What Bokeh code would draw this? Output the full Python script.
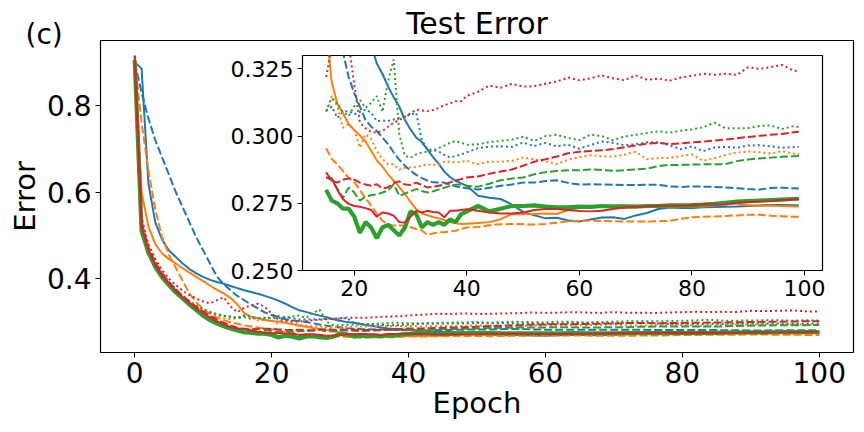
from bokeh.plotting import figure
from bokeh.models import Range1d, FixedTicker, PrintfTickFormatter
from bokeh.embed import file_html
from bokeh.resources import INLINE

# ---------------- data ----------------
EPOCHS = list(range(0, 41)) + list(range(42, 99, 2)) + [99, 100]

BLUE_SOLID = [0.900, 0.885, 0.620, 0.530, 0.490, 0.465, 0.450, 0.435, 0.422, 0.412, 0.404, 0.397, 0.392, 0.388, 0.383,
              0.378, 0.373, 0.369, 0.365, 0.360, 0.355, 0.349, 0.342, 0.334, 0.327,
              0.3232, 0.3185, 0.3145, 0.3110, 0.3060, 0.3025, 0.2995, 0.2978, 0.2950, 0.2922,
              0.2897, 0.2868, 0.2848, 0.2834, 0.2824, 0.2815,
              0.2778, 0.2771, 0.2766, 0.2745, 0.2718, 0.2705, 0.2694, 0.2696, 0.2686, 0.2682, 0.2690, 0.2697, 0.2698,
              0.2692, 0.2705, 0.2714, 0.2729, 0.2734, 0.2733, 0.2733, 0.2735, 0.2736, 0.2737, 0.2738, 0.2740, 0.2742,
              0.2744, 0.2744, 0.2743,
              0.2743, 0.2743]
BLUE_DASHED = [0.900, 0.830, 0.770, 0.720, 0.680, 0.640, 0.600, 0.565, 0.530, 0.495, 0.465, 0.435, 0.405, 0.387, 0.373,
               0.360, 0.350, 0.340, 0.331, 0.322, 0.316, 0.311, 0.306, 0.3035, 0.3019,
               0.2995, 0.2970, 0.2940, 0.2912, 0.2890, 0.2871, 0.2856, 0.2844, 0.2835, 0.2828,
               0.2827, 0.2827, 0.2820, 0.2813, 0.2809, 0.2806,
               0.2801, 0.2808, 0.2815, 0.2820, 0.2827, 0.2827, 0.2833, 0.2836, 0.2826, 0.2820, 0.2821, 0.2820, 0.2819,
               0.2818, 0.2818, 0.2819, 0.2819, 0.2813, 0.2811, 0.2813, 0.2812, 0.2811, 0.2809, 0.2806, 0.2803, 0.2801,
               0.2807, 0.2808, 0.2806,
               0.2805, 0.2805]
BLUE_DOTTED = [0.905, 0.530, 0.472, 0.437, 0.412, 0.392, 0.375, 0.360, 0.348, 0.338, 0.330, 0.323, 0.318, 0.314, 0.311,
               0.3095, 0.3110, 0.3068, 0.3090, 0.3093, 0.3081, 0.3090, 0.3099, 0.3087, 0.3056,
               0.3058, 0.3056, 0.3062, 0.3068, 0.3074, 0.3080, 0.3087, 0.2985, 0.2951, 0.2948,
               0.2943, 0.2930, 0.2920, 0.2926, 0.2932, 0.2940,
               0.2955, 0.2961, 0.2962, 0.2960, 0.2976, 0.2963, 0.2975, 0.2962, 0.2968, 0.2953, 0.2967, 0.2980, 0.2975,
               0.2966, 0.2970, 0.2977, 0.2977, 0.2966, 0.2951, 0.2962, 0.2944, 0.2958, 0.2960, 0.2957, 0.2965, 0.2966,
               0.2962, 0.2957, 0.2959,
               0.2960, 0.2960]
ORANGE_SOLID = [0.905, 0.600, 0.520, 0.480, 0.458, 0.445, 0.435, 0.424, 0.414, 0.404, 0.394, 0.384, 0.374, 0.366, 0.355,
                0.340, 0.320, 0.312, 0.3085, 0.3045, 0.3022, 0.3003, 0.2980, 0.2945, 0.2910,
                0.2887, 0.2858, 0.2834, 0.2810, 0.2785, 0.2755, 0.2728, 0.2713, 0.2705, 0.2699,
                0.2694, 0.2688, 0.2680, 0.2676, 0.2673, 0.2674,
                0.2677, 0.2680, 0.2691, 0.2710, 0.2709, 0.2710, 0.2712, 0.2710, 0.2725, 0.2733, 0.2736, 0.2740, 0.2742,
                0.2743, 0.2741, 0.2740, 0.2738, 0.2738, 0.2738, 0.2738, 0.2738, 0.2742, 0.2747, 0.2749, 0.2743, 0.2741,
                0.2741, 0.2740, 0.2738,
                0.2738, 0.2738]
ORANGE_DASHED = [0.905, 0.760, 0.650, 0.560, 0.495, 0.455, 0.425, 0.395, 0.365, 0.345, 0.330, 0.318, 0.310, 0.304, 0.299,
                 0.2955, 0.2915, 0.2895, 0.2870, 0.2845, 0.2828, 0.2800, 0.2768, 0.2742, 0.2712,
                 0.2685, 0.2672, 0.2667, 0.2667, 0.2667, 0.2662, 0.2654, 0.2650, 0.2632, 0.2638,
                 0.2642, 0.2642, 0.2645, 0.2648, 0.2655, 0.2660,
                 0.2662, 0.2668, 0.2672, 0.2673, 0.2672, 0.2671, 0.2673, 0.2678, 0.2683, 0.2685, 0.2685, 0.2684, 0.2683,
                 0.2682, 0.2682, 0.2682, 0.2683, 0.2685, 0.2692, 0.2698, 0.2700, 0.2701, 0.2703, 0.2705, 0.2707, 0.2707,
                 0.2704, 0.2702, 0.2700,
                 0.2700, 0.2700]
ORANGE_DOTTED = [0.905, 0.530, 0.475, 0.440, 0.413, 0.392, 0.375, 0.360, 0.347, 0.336, 0.327, 0.320, 0.314, 0.309, 0.306,
                 0.3090, 0.3149, 0.3110, 0.3031, 0.3044, 0.3025, 0.2957, 0.3007, 0.2990, 0.2945,
                 0.2915, 0.2895, 0.2895, 0.2875, 0.2882, 0.2884, 0.2885, 0.2890, 0.2895, 0.2892,
                 0.2895, 0.2905, 0.2905, 0.2902, 0.2905, 0.2908,
                 0.2896, 0.2905, 0.2905, 0.2908, 0.2920, 0.2914, 0.2906, 0.2896, 0.2912, 0.2922, 0.2929, 0.2925, 0.2924,
                 0.2931, 0.2942, 0.2914, 0.2918, 0.2919, 0.2926, 0.2932, 0.2908, 0.2918, 0.2930, 0.2939, 0.2943, 0.2940,
                 0.2935, 0.2944, 0.2935,
                 0.2933, 0.2933]
GREEN_SOLID = [0.904, 0.510, 0.460, 0.427, 0.403, 0.385, 0.368, 0.354, 0.340, 0.327, 0.314, 0.304, 0.296, 0.290, 0.285,
               0.2800, 0.2760, 0.2750, 0.2730, 0.2730, 0.2700, 0.2640, 0.2680, 0.2660, 0.2620,
               0.2660, 0.2670, 0.2650, 0.2630, 0.2660, 0.2720, 0.2710, 0.2660, 0.2680, 0.2670,
               0.2680, 0.2670, 0.2690, 0.2680, 0.2710, 0.2720,
               0.2740, 0.2720, 0.2730, 0.2740, 0.2740, 0.2742, 0.2738, 0.2735, 0.2735, 0.2738, 0.2737, 0.2740, 0.2738,
               0.2738, 0.2738, 0.2740, 0.2740, 0.2742, 0.2742, 0.2743, 0.2745, 0.2748, 0.2752, 0.2756, 0.2758, 0.2760,
               0.2762, 0.2764, 0.2766,
               0.2767, 0.2767]
GREEN_DASHED = [0.905, 0.520, 0.465, 0.431, 0.406, 0.387, 0.370, 0.355, 0.342, 0.330, 0.319, 0.309, 0.301, 0.294, 0.289,
                0.2848, 0.2835, 0.2805, 0.2770, 0.2809, 0.2790, 0.2760, 0.2775, 0.2780, 0.2783,
                0.2790, 0.2797, 0.2821, 0.2778, 0.2786, 0.2795, 0.2803, 0.2796, 0.2790, 0.2795,
                0.2801, 0.2808, 0.2815, 0.2819, 0.2820, 0.2815,
                0.2812, 0.2823, 0.2836, 0.2842, 0.2846, 0.2858, 0.2866, 0.2870, 0.2873, 0.2873, 0.2876, 0.2874, 0.2871,
                0.2873, 0.2876, 0.2879, 0.2888, 0.2893, 0.2893, 0.2894, 0.2895, 0.2895, 0.2896, 0.2907, 0.2913, 0.2917,
                0.2920, 0.2923, 0.2925,
                0.2926, 0.2926]
GREEN_DOTTED = [0.905, 0.520, 0.470, 0.437, 0.412, 0.392, 0.374, 0.359, 0.346, 0.336, 0.328, 0.322, 0.318, 0.314, 0.313,
                0.3093, 0.3142, 0.3120, 0.3090, 0.3074, 0.3112, 0.3136, 0.3105, 0.3124, 0.3149,
                0.3090, 0.3204, 0.3285, 0.3007, 0.2926, 0.2920, 0.2932, 0.2939, 0.2942, 0.2947,
                0.2955, 0.2965, 0.2975, 0.2982, 0.2975, 0.2968,
                0.2970, 0.2978, 0.2982, 0.2987, 0.2998, 0.2982, 0.3000, 0.3005, 0.2993, 0.2985, 0.3006, 0.3000, 0.2985,
                0.2999, 0.3005, 0.3012, 0.3018, 0.3013, 0.3020, 0.3025, 0.3033, 0.3050, 0.3029, 0.3029, 0.3030, 0.3038,
                0.3040, 0.3026, 0.3037,
                0.3034, 0.3034]
RED_SOLID = [0.915, 0.520, 0.466, 0.432, 0.407, 0.388, 0.372, 0.357, 0.344, 0.331, 0.320, 0.310, 0.301, 0.294, 0.288,
             0.2846, 0.2843, 0.2800, 0.2765, 0.2748, 0.2740, 0.2737, 0.2732, 0.2725, 0.2700,
             0.2716, 0.2712, 0.2704, 0.2680, 0.2679, 0.2700, 0.2722, 0.2716, 0.2722, 0.2718,
             0.2716, 0.2698, 0.2722, 0.2722, 0.2725, 0.2728,
             0.2722, 0.2716, 0.2712, 0.2712, 0.2716, 0.2725, 0.2729, 0.2729, 0.2725, 0.2721, 0.2720, 0.2722, 0.2729,
             0.2734, 0.2737, 0.2739, 0.2741, 0.2741, 0.2741, 0.2744, 0.2747, 0.2746, 0.2746, 0.2752, 0.2755, 0.2757,
             0.2759, 0.2762, 0.2765,
             0.2766, 0.2766]
RED_DASHED = [0.912, 0.530, 0.472, 0.437, 0.412, 0.392, 0.375, 0.360, 0.347, 0.335, 0.324, 0.314, 0.305, 0.298, 0.292,
              0.2865, 0.2835, 0.2827, 0.2838, 0.2843, 0.2838, 0.2827, 0.2820, 0.2815, 0.2821,
              0.2805, 0.2810, 0.2825, 0.2832, 0.2820, 0.2818, 0.2827, 0.2818, 0.2809, 0.2812,
              0.2815, 0.2820, 0.2828, 0.2835, 0.2840, 0.2846,
              0.2850, 0.2860, 0.2868, 0.2876, 0.2890, 0.2905, 0.2914, 0.2924, 0.2936, 0.2942, 0.2945, 0.2947, 0.2952,
              0.2959, 0.2965, 0.2972, 0.2975, 0.2970, 0.2973, 0.2977, 0.2980, 0.2984, 0.2987, 0.2992, 0.2997, 0.3001,
              0.3005, 0.3008, 0.3014,
              0.3016, 0.3016]
RED_DOTTED = [0.915, 0.540, 0.480, 0.445, 0.420, 0.400, 0.385, 0.372, 0.362, 0.354, 0.347, 0.343, 0.350, 0.357, 0.336,
              0.3220, 0.3330, 0.3380, 0.3420, 0.3350, 0.3190, 0.3050, 0.3030, 0.3015, 0.3013,
              0.3019, 0.3035, 0.3050, 0.3060, 0.3072, 0.3085, 0.3099, 0.3095, 0.3093, 0.3097,
              0.3105, 0.3115, 0.3122, 0.3130, 0.3130, 0.3150,
              0.3165, 0.3188, 0.3180, 0.3195, 0.3184, 0.3186, 0.3195, 0.3203, 0.3218, 0.3208, 0.3215, 0.3226, 0.3215,
              0.3208, 0.3226, 0.3210, 0.3214, 0.3206, 0.3218, 0.3224, 0.3232, 0.3228, 0.3232, 0.3228, 0.3256, 0.3250,
              0.3257, 0.3265, 0.3244,
              0.3241, 0.3241]

X_TICKS = [0, 20, 40, 60, 80, 100]
Y_TICKS = [0.4, 0.6, 0.8]
INSET_X_TICKS = [20, 40, 60, 80, 100]
INSET_Y_TICKS = [0.250, 0.275, 0.300, 0.325]

TITLE = "Test Error"
X_LABEL = "Epoch"
Y_LABEL = "Error"
PANEL = "(c)"

COLORS = {"blue": "#1f77b4", "orange": "#ff7f0e", "green": "#2ca02c", "red": "#d62728"}
SERIES = [
    ("blue", "solid", BLUE_SOLID), ("blue", "dashed", BLUE_DASHED), ("blue", "dotted", BLUE_DOTTED),
    ("orange", "solid", ORANGE_SOLID), ("orange", "dashed", ORANGE_DASHED), ("orange", "dotted", ORANGE_DOTTED),
    ("green", "solid", GREEN_SOLID), ("green", "dashed", GREEN_DASHED), ("green", "dotted", GREEN_DOTTED),
    ("red", "solid", RED_SOLID), ("red", "dashed", RED_DASHED), ("red", "dotted", RED_DOTTED),
]
for _c, _s, _v in SERIES:
    assert len(_v) == len(EPOCHS), (_c, _s, len(_v))

DASH = {"solid": "solid", "dashed": "8 3", "dotted": "2 3"}
FONT = "DejaVu Sans"


def style_axes(fig, tick_size, label_size):
    for ax in (fig.xaxis, fig.yaxis):
        ax.axis_line_color = None
        ax.major_tick_in = 0
        ax.major_tick_out = 5
        ax.major_tick_line_color = "black"
        ax.minor_tick_line_color = None
        ax.major_label_standoff = 4
        ax.major_label_text_font = FONT
        ax.major_label_text_font_size = tick_size
        ax.major_label_text_color = "black"
        ax.axis_label_text_font = FONT
        ax.axis_label_text_font_size = label_size
        ax.axis_label_text_font_style = "normal"
        ax.axis_label_text_color = "black"
    fig.xgrid.visible = False
    fig.ygrid.visible = False
    fig.outline_line_color = "black"
    fig.outline_line_alpha = 1.0
    fig.outline_line_width = 1.2


# ---------------- main plot ----------------
p = figure(width=864, height=432, output_backend="svg", toolbar_location=None,
           x_range=Range1d(-5, 105), y_range=Range1d(0.2293, 0.950),
           min_border_left=100, min_border_right=11, min_border_top=40, min_border_bottom=80)
style_axes(p, "28px", "29px")
p.xaxis.ticker = FixedTicker(ticks=X_TICKS)
p.yaxis.ticker = FixedTicker(ticks=Y_TICKS)
p.xaxis.formatter = PrintfTickFormatter(format="%d")
p.yaxis.formatter = PrintfTickFormatter(format="%.1f")
p.xaxis.axis_label = X_LABEL
p.yaxis.axis_label = Y_LABEL
p.xaxis.axis_label_standoff = 0
p.yaxis.axis_label_standoff = 2
p.title.text = TITLE
p.title.align = "center"
p.title.text_font = FONT
p.title.text_font_size = "30px"
p.title.text_font_style = "normal"
p.title.text_color = "black"
p.title.standoff = 0

for color, style, vals in SERIES:
    lw = 4.2 if (color == "green" and style == "solid") else 2.0
    p.line(EPOCHS, vals, line_color=COLORS[color], line_width=lw, line_dash=DASH[style])

# ---------------- inset (transparent full-size overlay, separate root) ----------------
q = figure(width=864, height=432, output_backend="svg", toolbar_location=None,
           x_range=Range1d(10.8, 103.2), y_range=Range1d(0.25, 0.33),
           min_border_left=302, min_border_right=42, min_border_top=55, min_border_bottom=162)
style_axes(q, "22px", "22px")
q.xaxis.ticker = FixedTicker(ticks=INSET_X_TICKS)
q.yaxis.ticker = FixedTicker(ticks=INSET_Y_TICKS)
q.xaxis.formatter = PrintfTickFormatter(format="%d")
q.yaxis.formatter = PrintfTickFormatter(format="%.3f")
q.border_fill_color = None
q.background_fill_color = "white"
q.outline_line_width = 1.2

# panel letter "(c)" placed in the overlay's title slot, far to the left
q.title.text = PANEL
q.title.align = "left"
q.title.offset = -277
q.title.text_font = FONT
q.title.text_font_size = "28px"
q.title.text_font_style = "normal"
q.title.text_color = "black"
q.title.standoff = 10

inset_idx = [i for i, e in enumerate(EPOCHS) if 15 <= e <= 99]
inset_x = [EPOCHS[i] for i in inset_idx]
for color, style, vals in SERIES:
    lw = 4.2 if (color == "green" and style == "solid") else 2.0
    q.line(inset_x, [vals[i] for i in inset_idx], line_color=COLORS[color], line_width=lw,
           line_dash=DASH[style])

q.styles = {"position": "absolute", "left": "0px", "top": "0px"}

open("out.html", "w").write(file_html([p, q], INLINE))
